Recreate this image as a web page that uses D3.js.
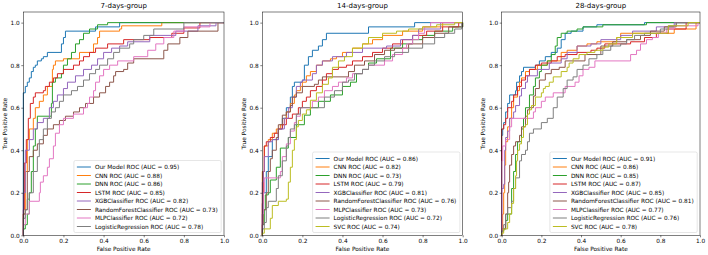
<!DOCTYPE html>
<html>
<head>
<meta charset="utf-8">
<script src="https://cdn.jsdelivr.net/npm/d3@7"></script>
<style>
  body { margin: 0; background: #fff; }
  svg { display: block; font-family: "DejaVu Sans", sans-serif; }
</style>
</head>
<body>
<div id="chart"></div>
<script>
const groupTitles = ["7-days-group", "14-days-group", "28-days-group"]
const modelNames = ["Our Model", "CNN", "DNN", "LSTM", "XGBClassifier", "RandomForestClassifier", "MLPClassifier", "LogisticRegression", "SVC"]
const modelColors = ["#1f77b4", "#ff7f0e", "#2ca02c", "#d62728", "#9467bd", "#8c564b", "#e377c2", "#7f7f7f", "#bcbd22"]
const auc7 = [0.95, 0.88, 0.86, 0.85, 0.82, 0.73, 0.72, 0.78]
const auc14 = [0.86, 0.82, 0.73, 0.79, 0.81, 0.76, 0.73, 0.72, 0.74]
const auc28 = [0.91, 0.86, 0.85, 0.87, 0.85, 0.81, 0.77, 0.76, 0.78]
const tickValues = [0, 0.2, 0.4, 0.6, 0.8, 1.0]

// each point is [fpr, tpr]: at this fpr the tpr jumps up to this value
// ---- 7 days
const ours7 = [[0,0.67],[0.01,0.7],[0.02,0.72],[0.03,0.74],[0.04,0.77],[0.05,0.79],[0.06,0.8],[0.07,0.82],[0.09,0.83],[0.1,0.84],[0.12,0.86],[0.19,0.9],[0.2,0.93],[0.21,0.96],[0.36,0.98],[0.48,1.0],[1,1]]
const cnn7 = [[0,0.1],[0.01,0.3],[0.02,0.45],[0.03,0.5],[0.05,0.55],[0.06,0.6],[0.08,0.63],[0.1,0.66],[0.12,0.7],[0.145,0.78],[0.15,0.8],[0.16,0.82],[0.2,0.83],[0.28,0.86],[0.35,0.9],[0.37,0.93],[0.38,0.96],[0.48,0.97],[0.49,0.985],[0.69,1.0],[1,1]]
const dnn7 = [[0,0.03],[0.01,0.05],[0.02,0.1],[0.03,0.2],[0.04,0.3],[0.05,0.42],[0.06,0.5],[0.07,0.56],[0.14,0.62],[0.145,0.72],[0.16,0.74],[0.19,0.76],[0.2,0.8],[0.22,0.83],[0.24,0.86],[0.26,0.9],[0.28,0.92],[0.3,0.95],[0.33,0.97],[0.37,0.99],[0.42,1.0],[1,1]]
const lstm7 = [[0,0.12],[0.005,0.34],[0.015,0.45],[0.025,0.55],[0.035,0.62],[0.05,0.65],[0.06,0.67],[0.1,0.68],[0.11,0.7],[0.13,0.72],[0.15,0.74],[0.17,0.76],[0.2,0.78],[0.25,0.8],[0.28,0.82],[0.3,0.84],[0.33,0.86],[0.36,0.88],[0.42,0.9],[0.5,0.92],[0.63,0.93],[0.74,0.95],[0.8,0.975],[0.88,1.0],[1,1]]
const xgb7 = [[0,0.2],[0.01,0.4],[0.03,0.45],[0.05,0.5],[0.07,0.53],[0.1,0.55],[0.13,0.6],[0.15,0.63],[0.17,0.66],[0.2,0.69],[0.22,0.72],[0.26,0.75],[0.3,0.78],[0.34,0.8],[0.37,0.83],[0.4,0.86],[0.44,0.88],[0.48,0.89],[0.52,0.91],[0.63,0.94],[0.76,0.96],[0.87,0.985],[0.96,1.0],[1,1]]
const rf7 = [[0,0.1],[0.01,0.12],[0.02,0.3],[0.03,0.37],[0.05,0.4],[0.07,0.43],[0.1,0.47],[0.12,0.5],[0.15,0.52],[0.18,0.54],[0.21,0.56],[0.25,0.58],[0.28,0.6],[0.31,0.62],[0.35,0.65],[0.38,0.67],[0.41,0.7],[0.43,0.72],[0.45,0.75],[0.46,0.77],[0.5,0.78],[0.52,0.81],[0.55,0.83],[0.7,0.87],[0.72,0.9],[0.78,0.93],[0.82,0.96],[0.97,1.0],[1,1]]
const mlp7 = [[0,0.05],[0.01,0.1],[0.03,0.16],[0.08,0.2],[0.085,0.25],[0.1,0.28],[0.12,0.32],[0.13,0.36],[0.15,0.42],[0.16,0.48],[0.18,0.52],[0.2,0.55],[0.25,0.57],[0.3,0.6],[0.32,0.62],[0.33,0.65],[0.35,0.68],[0.36,0.72],[0.38,0.75],[0.4,0.78],[0.43,0.8],[0.47,0.82],[0.55,0.84],[0.62,0.87],[0.66,0.9],[0.7,0.93],[0.75,0.96],[0.8,0.98],[0.93,1.0],[1,1]]
const lr7 = [[0,0.08],[0.01,0.12],[0.02,0.17],[0.03,0.2],[0.05,0.3],[0.07,0.37],[0.08,0.45],[0.1,0.5],[0.12,0.55],[0.14,0.58],[0.16,0.6],[0.18,0.63],[0.2,0.66],[0.24,0.68],[0.27,0.7],[0.3,0.73],[0.33,0.76],[0.36,0.78],[0.38,0.8],[0.42,0.83],[0.45,0.86],[0.48,0.88],[0.53,0.9],[0.55,0.92],[0.6,0.94],[0.65,0.97],[0.8,1.0],[1,1]]

// ---- 14 days
const ours14 = [[0,0.1],[0.005,0.2],[0.02,0.3],[0.03,0.37],[0.05,0.45],[0.08,0.5],[0.1,0.55],[0.12,0.6],[0.14,0.65],[0.15,0.7],[0.16,0.72],[0.2,0.73],[0.21,0.8],[0.23,0.84],[0.25,0.87],[0.28,0.89],[0.3,0.92],[0.32,0.95],[0.53,0.98],[0.76,1.0],[1,1]]
const cnn14 = [[0,0.3],[0.01,0.42],[0.03,0.45],[0.05,0.48],[0.07,0.5],[0.09,0.52],[0.11,0.55],[0.12,0.58],[0.14,0.62],[0.16,0.66],[0.17,0.68],[0.19,0.7],[0.2,0.72],[0.22,0.75],[0.24,0.77],[0.27,0.8],[0.3,0.82],[0.34,0.83],[0.37,0.84],[0.4,0.86],[0.45,0.88],[0.5,0.9],[0.55,0.92],[0.6,0.94],[0.7,0.96],[0.8,0.98],[0.9,1.0],[1,1]]
const dnn14 = [[0,0.05],[0.01,0.12],[0.015,0.19],[0.03,0.2],[0.04,0.26],[0.07,0.32],[0.09,0.41],[0.13,0.46],[0.17,0.52],[0.21,0.565],[0.24,0.6],[0.28,0.63],[0.34,0.66],[0.4,0.7],[0.44,0.72],[0.47,0.76],[0.5,0.78],[0.53,0.81],[0.57,0.83],[0.64,0.88],[0.7,0.9],[0.75,0.92],[0.8,0.94],[0.86,0.96],[0.95,0.98],[1,1]]
const lstm14 = [[0,0.15],[0.005,0.3],[0.01,0.42],[0.02,0.44],[0.04,0.46],[0.06,0.48],[0.08,0.5],[0.1,0.52],[0.12,0.55],[0.15,0.57],[0.18,0.6],[0.2,0.63],[0.22,0.65],[0.24,0.68],[0.27,0.7],[0.3,0.73],[0.32,0.76],[0.35,0.78],[0.38,0.79],[0.42,0.8],[0.45,0.82],[0.5,0.84],[0.55,0.86],[0.6,0.88],[0.65,0.9],[0.7,0.92],[0.75,0.94],[0.82,0.96],[0.9,0.98],[0.98,1.0],[1,1]]
const xgb14 = [[0,0.25],[0.005,0.3],[0.01,0.37],[0.03,0.44],[0.05,0.45],[0.08,0.5],[0.11,0.55],[0.13,0.6],[0.15,0.65],[0.17,0.7],[0.19,0.72],[0.2,0.73],[0.25,0.76],[0.27,0.8],[0.3,0.82],[0.35,0.84],[0.42,0.86],[0.5,0.88],[0.62,0.89],[0.69,0.92],[0.75,0.94],[0.78,0.97],[0.89,1.0],[1,1]]
const rf14 = [[0,0.05],[0.005,0.12],[0.02,0.2],[0.03,0.3],[0.04,0.36],[0.05,0.4],[0.07,0.46],[0.08,0.52],[0.1,0.565],[0.12,0.58],[0.14,0.61],[0.15,0.65],[0.17,0.67],[0.2,0.7],[0.26,0.71],[0.28,0.73],[0.3,0.745],[0.43,0.77],[0.46,0.8],[0.51,0.82],[0.56,0.85],[0.61,0.87],[0.66,0.88],[0.73,0.9],[0.8,0.93],[0.86,0.95],[0.93,0.98],[1,1]]
const mlp14 = [[0,0.1],[0.005,0.2],[0.01,0.27],[0.09,0.3],[0.1,0.37],[0.12,0.43],[0.14,0.49],[0.16,0.53],[0.17,0.56],[0.19,0.6],[0.25,0.63],[0.28,0.65],[0.31,0.68],[0.35,0.7],[0.38,0.72],[0.42,0.74],[0.45,0.76],[0.5,0.78],[0.53,0.8],[0.61,0.82],[0.65,0.85],[0.7,0.88],[0.72,0.9],[0.75,0.92],[0.78,0.95],[0.81,0.98],[0.84,1.0],[1,1]]
const lr14 = [[0,0.03],[0.01,0.06],[0.02,0.13],[0.03,0.16],[0.07,0.22],[0.08,0.28],[0.1,0.35],[0.12,0.42],[0.13,0.46],[0.14,0.5],[0.16,0.52],[0.17,0.57],[0.19,0.6],[0.31,0.65],[0.36,0.68],[0.4,0.72],[0.43,0.73],[0.46,0.76],[0.5,0.78],[0.53,0.8],[0.56,0.82],[0.61,0.84],[0.66,0.86],[0.73,0.88],[0.8,0.9],[0.86,0.93],[0.91,0.95],[0.96,0.97],[0.995,1.0],[1,1]]
const svc14 = [[0,0.01],[0.01,0.03],[0.04,0.08],[0.05,0.14],[0.08,0.16],[0.12,0.17],[0.13,0.25],[0.14,0.32],[0.15,0.4],[0.16,0.45],[0.17,0.51],[0.18,0.54],[0.2,0.57],[0.22,0.59],[0.24,0.635],[0.27,0.67],[0.3,0.71],[0.33,0.74],[0.35,0.79],[0.38,0.82],[0.41,0.84],[0.45,0.88],[0.5,0.9],[0.53,0.93],[0.6,0.95],[0.67,0.96],[0.73,0.97],[0.8,0.98],[0.87,0.99],[0.96,1.0],[1,1]]

// ---- 28 days
const ours28 = [[0,0.47],[0.005,0.5],[0.01,0.53],[0.02,0.58],[0.03,0.62],[0.04,0.66],[0.07,0.68],[0.075,0.72],[0.09,0.75],[0.1,0.77],[0.11,0.79],[0.17,0.8],[0.19,0.82],[0.22,0.84],[0.25,0.86],[0.28,0.88],[0.3,0.92],[0.32,0.95],[0.35,0.96],[0.41,0.98],[0.48,0.99],[0.72,1.0],[1,1]]
const cnn28 = [[0,0.02],[0.005,0.1],[0.01,0.2],[0.015,0.33],[0.02,0.44],[0.03,0.51],[0.04,0.55],[0.05,0.6],[0.06,0.65],[0.08,0.68],[0.09,0.72],[0.1,0.74],[0.12,0.77],[0.14,0.78],[0.18,0.8],[0.23,0.82],[0.3,0.86],[0.33,0.87],[0.38,0.89],[0.43,0.9],[0.48,0.91],[0.58,0.93],[0.6,0.95],[0.87,0.97],[0.98,1.0],[1,1]]
const dnn28 = [[0,0.02],[0.01,0.03],[0.02,0.07],[0.03,0.1],[0.05,0.22],[0.06,0.3],[0.07,0.38],[0.08,0.44],[0.1,0.5],[0.11,0.55],[0.12,0.6],[0.14,0.66],[0.16,0.7],[0.17,0.74],[0.19,0.77],[0.2,0.8],[0.23,0.82],[0.25,0.85],[0.27,0.89],[0.28,0.93],[0.3,0.95],[0.33,0.96],[0.38,0.97],[0.41,0.98],[0.51,0.99],[0.73,1.0],[1,1]]
const lstm28 = [[0,0.5],[0.01,0.52],[0.02,0.55],[0.03,0.6],[0.05,0.63],[0.06,0.66],[0.08,0.7],[0.1,0.73],[0.12,0.75],[0.14,0.78],[0.17,0.8],[0.2,0.81],[0.25,0.82],[0.28,0.84],[0.32,0.85],[0.38,0.86],[0.45,0.87],[0.48,0.88],[0.52,0.9],[0.65,0.91],[0.72,0.93],[0.78,0.95],[0.84,0.97],[0.93,1.0],[1,1]]
const xgb28 = [[0,0.22],[0.01,0.24],[0.015,0.4],[0.02,0.46],[0.03,0.49],[0.04,0.55],[0.06,0.58],[0.07,0.61],[0.09,0.655],[0.1,0.69],[0.12,0.72],[0.13,0.75],[0.18,0.78],[0.24,0.81],[0.3,0.83],[0.33,0.86],[0.38,0.89],[0.45,0.9],[0.5,0.92],[0.6,0.94],[0.66,0.96],[0.78,0.98],[0.87,1.0],[1,1]]
const rf28 = [[0,0.03],[0.02,0.1],[0.03,0.2],[0.035,0.25],[0.04,0.33],[0.05,0.38],[0.06,0.42],[0.07,0.44],[0.09,0.47],[0.1,0.51],[0.12,0.56],[0.13,0.59],[0.14,0.6],[0.16,0.655],[0.17,0.69],[0.19,0.73],[0.22,0.76],[0.25,0.78],[0.29,0.79],[0.32,0.82],[0.42,0.85],[0.5,0.89],[0.56,0.91],[0.63,0.92],[0.7,0.94],[0.75,0.96],[0.82,0.98],[0.88,1.0],[1,1]]
const mlp28 = [[0,0.35],[0.005,0.42],[0.02,0.45],[0.04,0.51],[0.05,0.55],[0.16,0.58],[0.17,0.6],[0.2,0.63],[0.22,0.65],[0.26,0.67],[0.32,0.7],[0.37,0.72],[0.39,0.75],[0.41,0.78],[0.44,0.79],[0.47,0.82],[0.65,0.85],[0.68,0.87],[0.7,0.9],[0.73,0.92],[0.76,0.93],[0.79,0.95],[0.83,0.97],[0.87,0.985],[0.99,1.0],[1,1]]
const lr28 = [[0,0.02],[0.01,0.05],[0.02,0.1],[0.03,0.13],[0.05,0.16],[0.06,0.22],[0.07,0.27],[0.09,0.35],[0.1,0.38],[0.12,0.4],[0.13,0.44],[0.14,0.48],[0.16,0.5],[0.2,0.53],[0.23,0.55],[0.26,0.6],[0.28,0.65],[0.31,0.69],[0.33,0.73],[0.36,0.745],[0.38,0.78],[0.41,0.8],[0.44,0.83],[0.48,0.85],[0.51,0.87],[0.55,0.89],[0.6,0.9],[0.63,0.92],[0.67,0.94],[0.72,0.95],[0.8,0.97],[0.84,0.985],[0.88,1.0],[1,1]]
const svc28 = [[0,0.01],[0.01,0.03],[0.03,0.06],[0.04,0.1],[0.05,0.15],[0.06,0.22],[0.07,0.28],[0.075,0.35],[0.08,0.4],[0.09,0.43],[0.1,0.46],[0.11,0.51],[0.12,0.52],[0.13,0.57],[0.14,0.59],[0.15,0.61],[0.17,0.65],[0.2,0.67],[0.21,0.69],[0.22,0.7],[0.24,0.72],[0.26,0.745],[0.3,0.77],[0.33,0.79],[0.34,0.81],[0.36,0.83],[0.39,0.85],[0.43,0.86],[0.47,0.87],[0.51,0.885],[0.54,0.9],[0.58,0.93],[0.66,0.95],[0.84,0.985],[0.94,1.0],[1,1]]

const curves7 = [ours7, cnn7, dnn7, lstm7, xgb7, rf7, mlp7, lr7]
const curves14 = [ours14, cnn14, dnn14, lstm14, xgb14, rf14, mlp14, lr14, svc14]
const curves28 = [ours28, cnn28, dnn28, lstm28, xgb28, rf28, mlp28, lr28, svc28]

const width = 708, height = 255
const plotTop = 12, plotBottom = 235.3
const frames = [[23.3, 224], [262.3, 462.7], [501.7, 700]]
const fontSize = 5.8

const svg = d3.select("#chart").append("svg")
    .attr("width", width)
    .attr("height", height)
    .attr("viewBox", [0, 0, width, height])

function drawPanel(index, curves, aucs) {
    const [x0, x1] = frames[index]
    const xScale = d3.scaleLinear([0, 1], [x0, x1])
    const yScale = d3.scaleLinear([0, 1.05], [plotBottom, plotTop])
    const g = svg.append("g")

    // curves
    const line = d3.line()
        .x(d => xScale(d[0]))
        .y(d => yScale(d[1]))
        .curve(d3.curveStepAfter)
    curves.forEach((pts, i) => {
        g.append("path")
            .attr("d", line([[0, 0]].concat(pts)))
            .attr("fill", "none")
            .attr("stroke", modelColors[i])
            .attr("stroke-width", 1)
    })

    // axes
    const xAxis = d3.axisBottom(xScale).tickValues(tickValues).tickFormat(d3.format(".1f")).tickSize(2).tickPadding(1.5)
    const yAxis = d3.axisLeft(yScale).tickValues(tickValues).tickFormat(d3.format(".1f")).tickSize(2).tickPadding(1.5)
    const gx = g.append("g").attr("transform", `translate(0,${plotBottom})`).call(xAxis)
    const gy = g.append("g").attr("transform", `translate(${x0},0)`).call(yAxis)
    for (const ax of [gx, gy]) {
        ax.select(".domain").remove()
        ax.selectAll("line").attr("stroke", "#000").attr("stroke-width", 0.5)
        ax.selectAll("text").attr("font-size", fontSize).attr("fill", "#000").attr("font-family", "DejaVu Sans")
    }

    // frame
    g.append("rect")
        .attr("x", x0).attr("y", plotTop)
        .attr("width", x1 - x0).attr("height", plotBottom - plotTop)
        .attr("fill", "none").attr("stroke", "#000").attr("stroke-width", 0.5)

    // labels
    g.append("text")
        .attr("x", (x0 + x1) / 2).attr("y", 8)
        .attr("text-anchor", "middle").attr("font-size", 7)
        .text(groupTitles[index])
    g.append("text")
        .attr("x", (x0 + x1) / 2).attr("y", 250.5)
        .attr("text-anchor", "middle").attr("font-size", fontSize)
        .text("False Positive Rate")
    g.append("text")
        .attr("transform", `translate(${x0 - 16.5},${(plotTop + plotBottom) / 2}) rotate(-90)`)
        .attr("text-anchor", "middle").attr("font-size", fontSize)
        .text("True Positive Rate")

    // legend, lower right
    const labels = curves.map((c, i) => `${modelNames[i]} ROC (AUC = ${aucs[i].toFixed(2)})`)
    const lg = g.append("g")
    const texts = lg.selectAll("text").data(labels).join("text")
        .attr("font-size", fontSize)
        .text(d => d)
    let maxW = 0
    texts.each(function () { maxW = Math.max(maxW, this.getComputedTextLength()) })
    const rowH = 8.5
    const boxW = 3 + 14 + 4 + maxW + 3.5
    const boxH = labels.length * rowH + 4
    const right = x1 - 2.8, bottom = plotBottom - 2.8
    const left = right - boxW, top = bottom - boxH
    lg.insert("rect", "text")
        .attr("x", left).attr("y", top)
        .attr("width", boxW).attr("height", boxH)
        .attr("rx", 1.5)
        .attr("fill", "#fff").attr("fill-opacity", 0.8)
        .attr("stroke", "#cccccc").attr("stroke-width", 0.5)
    texts.attr("x", left + 21).attr("y", (d, i) => top + 6.5 + i * rowH).attr("dy", "0.35em")
    lg.selectAll("line").data(labels).join("line")
        .attr("x1", left + 3).attr("x2", left + 17)
        .attr("y1", (d, i) => top + 6.5 + i * rowH)
        .attr("y2", (d, i) => top + 6.5 + i * rowH)
        .attr("stroke", (d, i) => modelColors[i])
        .attr("stroke-width", 1)
}

drawPanel(0, curves7, auc7)
drawPanel(1, curves14, auc14)
drawPanel(2, curves28, auc28)
</script>
</body>
</html>
